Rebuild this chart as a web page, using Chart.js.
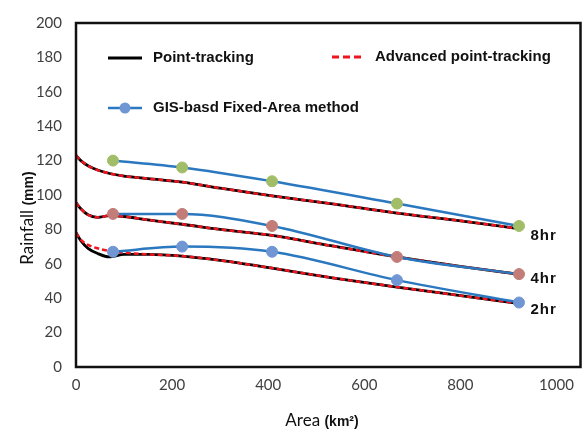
<!DOCTYPE html>
<html>
<head>
<meta charset="utf-8">
<script src="https://cdn.jsdelivr.net/npm/chart.js@4"></script>
<style>
    html, body { margin: 0; padding: 0; background: #fff; }
    #wrap { position: relative; width: 587px; height: 438px; }
</style>
</head>
<body>
<div id="wrap"><canvas id="chart-pluie"></canvas></div>
<script>
// ---------------------------------------------------------------
// Data
// ---------------------------------------------------------------
var areaTracking = [0, 10, 25, 45, 70, 100, 150, 221, 300, 408, 530, 668, 800, 920];

// point-tracking (black)
var pt2 = [78, 73.5, 69, 66, 64, 65.5, 65.5, 64.5, 62, 57.5, 52, 46.5, 41.5, 37];
var pt4 = [95.5, 92, 88.5, 87, 88, 87.5, 85.5, 83, 80, 76.5, 70.5, 64, 58.5, 54];
var pt8 = [123, 120, 117, 114.5, 112.5, 111, 109.5, 107.5, 104, 99.5, 95, 89.5, 85, 80.5];

// advanced point-tracking (red dashed)
var adv2 = [78, 74, 71, 69, 67.5, 66.5, 65.5, 64.5, 62, 57.5, 52, 46.5, 41.5, 37];
var adv4 = [95.5, 92, 88.5, 87, 88, 87.5, 85.5, 83, 80, 76.5, 70.5, 64, 58.5, 54];
var adv8 = [123, 120, 117, 114.5, 112.5, 111, 109.5, 107.5, 104, 99.5, 95, 89.5, 85, 80.5];

// GIS-based fixed-area method
var areaGis = [77, 221, 408, 668, 922];
var gis2 = [67, 70, 67, 50.5, 37.5];
var gis4 = [89, 89, 82, 64, 54];
var gis8 = [120, 116, 108, 95, 82];

var durees = ['2hr', '4hr', '8hr'];
var dureeLabelX = [946, 946, 946];
var dureeLabelY = [33, 51, 76.5];

var xTicks = [0, 200, 400, 600, 800, 1000];
var yTicks = [0, 20, 40, 60, 80, 100, 120, 140, 160, 180, 200];

var legendLabels = ['Point-tracking', 'Advanced point-tracking', 'GIS-basd Fixed-Area method'];

// ---------------------------------------------------------------
// Helpers
// ---------------------------------------------------------------
var markerColors = ['#7096d4', '#c27d78', '#a2bd68'];
var gisBlue = '#2a78bf';

function toPoints(xs, ys) {
    return xs.map((x, i) => ({ x: x, y: ys[i] }));
}

var trackingSeries = [pt2, pt4, pt8];
var advSeries = [adv2, adv4, adv8];
var gisSeries = [gis2, gis4, gis8];

var datasets = [];
durees.forEach((d, i) => {
    datasets.push({
        label: 'GIS ' + d,
        data: toPoints(areaGis, gisSeries[i]),
        borderColor: gisBlue,
        borderWidth: 2.5,
        pointRadius: 5.5,
        pointBackgroundColor: markerColors[i],
        pointBorderColor: markerColors[i],
        pointBorderWidth: 1,
        cubicInterpolationMode: 'monotone',
        order: 0
    });
    datasets.push({
        label: 'Advanced ' + d,
        data: toPoints(areaTracking, advSeries[i]),
        borderColor: '#f0141e',
        borderWidth: 2.5,
        borderDash: [5, 3],
        pointRadius: 0,
        cubicInterpolationMode: 'monotone',
        order: 1
    });
    datasets.push({
        label: 'Point ' + d,
        data: toPoints(areaTracking, trackingSeries[i]),
        borderColor: '#000',
        borderWidth: 2.8,
        pointRadius: 0,
        cubicInterpolationMode: 'monotone',
        order: 2
    });
});

// frame, legend, titles, duration labels
var decorPlugin = {
    id: 'decor',
    afterDraw(chart) {
        var ctx = chart.ctx;
        var a = chart.chartArea;
        var xs = chart.scales.x, ys = chart.scales.y;

        ctx.save();
        // plot frame
        ctx.strokeStyle = '#111';
        ctx.lineWidth = 2.5;
        ctx.strokeRect(a.left, a.top, a.right - a.left, a.bottom - a.top);

        // legend
        var lx = a.left + 32;
        ctx.lineWidth = 2.8;
        ctx.strokeStyle = '#000';
        ctx.beginPath(); ctx.moveTo(lx, a.top + 35); ctx.lineTo(lx + 34, a.top + 35); ctx.stroke();

        ctx.strokeStyle = '#f0141e';
        ctx.setLineDash([7, 4]);
        ctx.beginPath(); ctx.moveTo(a.left + 256, a.top + 34); ctx.lineTo(a.left + 288, a.top + 34); ctx.stroke();
        ctx.setLineDash([]);

        ctx.strokeStyle = gisBlue;
        ctx.lineWidth = 2.5;
        ctx.beginPath(); ctx.moveTo(lx, a.top + 85); ctx.lineTo(lx + 34, a.top + 85); ctx.stroke();
        ctx.fillStyle = markerColors[0];
        ctx.beginPath(); ctx.arc(lx + 17, a.top + 85, 5.5, 0, Math.PI * 2); ctx.fill();

        ctx.fillStyle = '#111';
        ctx.font = 'bold 15px "Liberation Sans", Arial';
        ctx.textBaseline = 'middle';
        ctx.textAlign = 'left';
        ctx.fillText(legendLabels[0], a.left + 77, a.top + 35);
        ctx.fillText(legendLabels[1], a.left + 299, a.top + 34);
        ctx.fillText(legendLabels[2], a.left + 77, a.top + 85);

        // duration labels
        ctx.letterSpacing = '1px';
        durees.forEach((d, i) => {
            ctx.fillText(d, xs.getPixelForValue(dureeLabelX[i]), ys.getPixelForValue(dureeLabelY[i]));
        });
        ctx.letterSpacing = '0px';

        // x title
        ctx.font = '17px Lato';
        var w1 = ctx.measureText('Area ').width;
        ctx.font = 'bold 14px "Liberation Sans"';
        var w2 = ctx.measureText('(km²)').width;
        var tx = 322 - (w1 + w2) / 2;
        ctx.font = '17px Lato';
        ctx.fillText('Area ', tx, 421);
        ctx.font = 'bold 14px "Liberation Sans"';
        ctx.fillText('(km²)', tx + w1, 422);

        // y title
        ctx.translate(28, 218);
        ctx.rotate(-Math.PI / 2);
        ctx.font = '17px Lato';
        w1 = ctx.measureText('Rainfall ').width;
        ctx.font = 'bold 14px "Liberation Sans"';
        w2 = ctx.measureText('(mm)').width;
        tx = -(w1 + w2) / 2;
        ctx.font = '17px Lato';
        ctx.fillText('Rainfall ', tx, 0);
        ctx.font = 'bold 14px "Liberation Sans"';
        ctx.fillText('(mm)', tx + w1, 1);
        ctx.restore();
    }
};

var ctx = document.getElementById('chart-pluie').getContext('2d');
new Chart(ctx, {
    type: 'line',
    data: { datasets: datasets },
    options: {
        responsive: true,
        maintainAspectRatio: false,
        animation: false,
        layout: { padding: { top: 18, right: 5, left: 0, bottom: 0 } },
        plugins: { legend: { display: false }, tooltip: { enabled: false } },
        scales: {
            x: {
                type: 'linear',
                min: 0,
                max: 1050,
                grid: { display: false, drawTicks: false },
                border: { display: false },
                afterBuildTicks: s => { s.ticks = xTicks.map(v => ({ value: v })); },
                afterFit: s => { s.height = 71; },
                ticks: { padding: 9, color: '#404040', font: { family: 'Lato', size: 15 }, callback: v => String(v) }
            },
            y: {
                min: 0,
                max: 200,
                grid: { display: false, drawTicks: false },
                border: { display: false },
                afterBuildTicks: s => { s.ticks = yTicks.map(v => ({ value: v })); },
                afterFit: s => { s.width = 76; },
                ticks: { padding: 14, color: '#404040', font: { family: 'Lato', size: 15 }, callback: v => String(v) }
            }
        }
    },
    plugins: [decorPlugin]
});
</script>
</body>
</html>
